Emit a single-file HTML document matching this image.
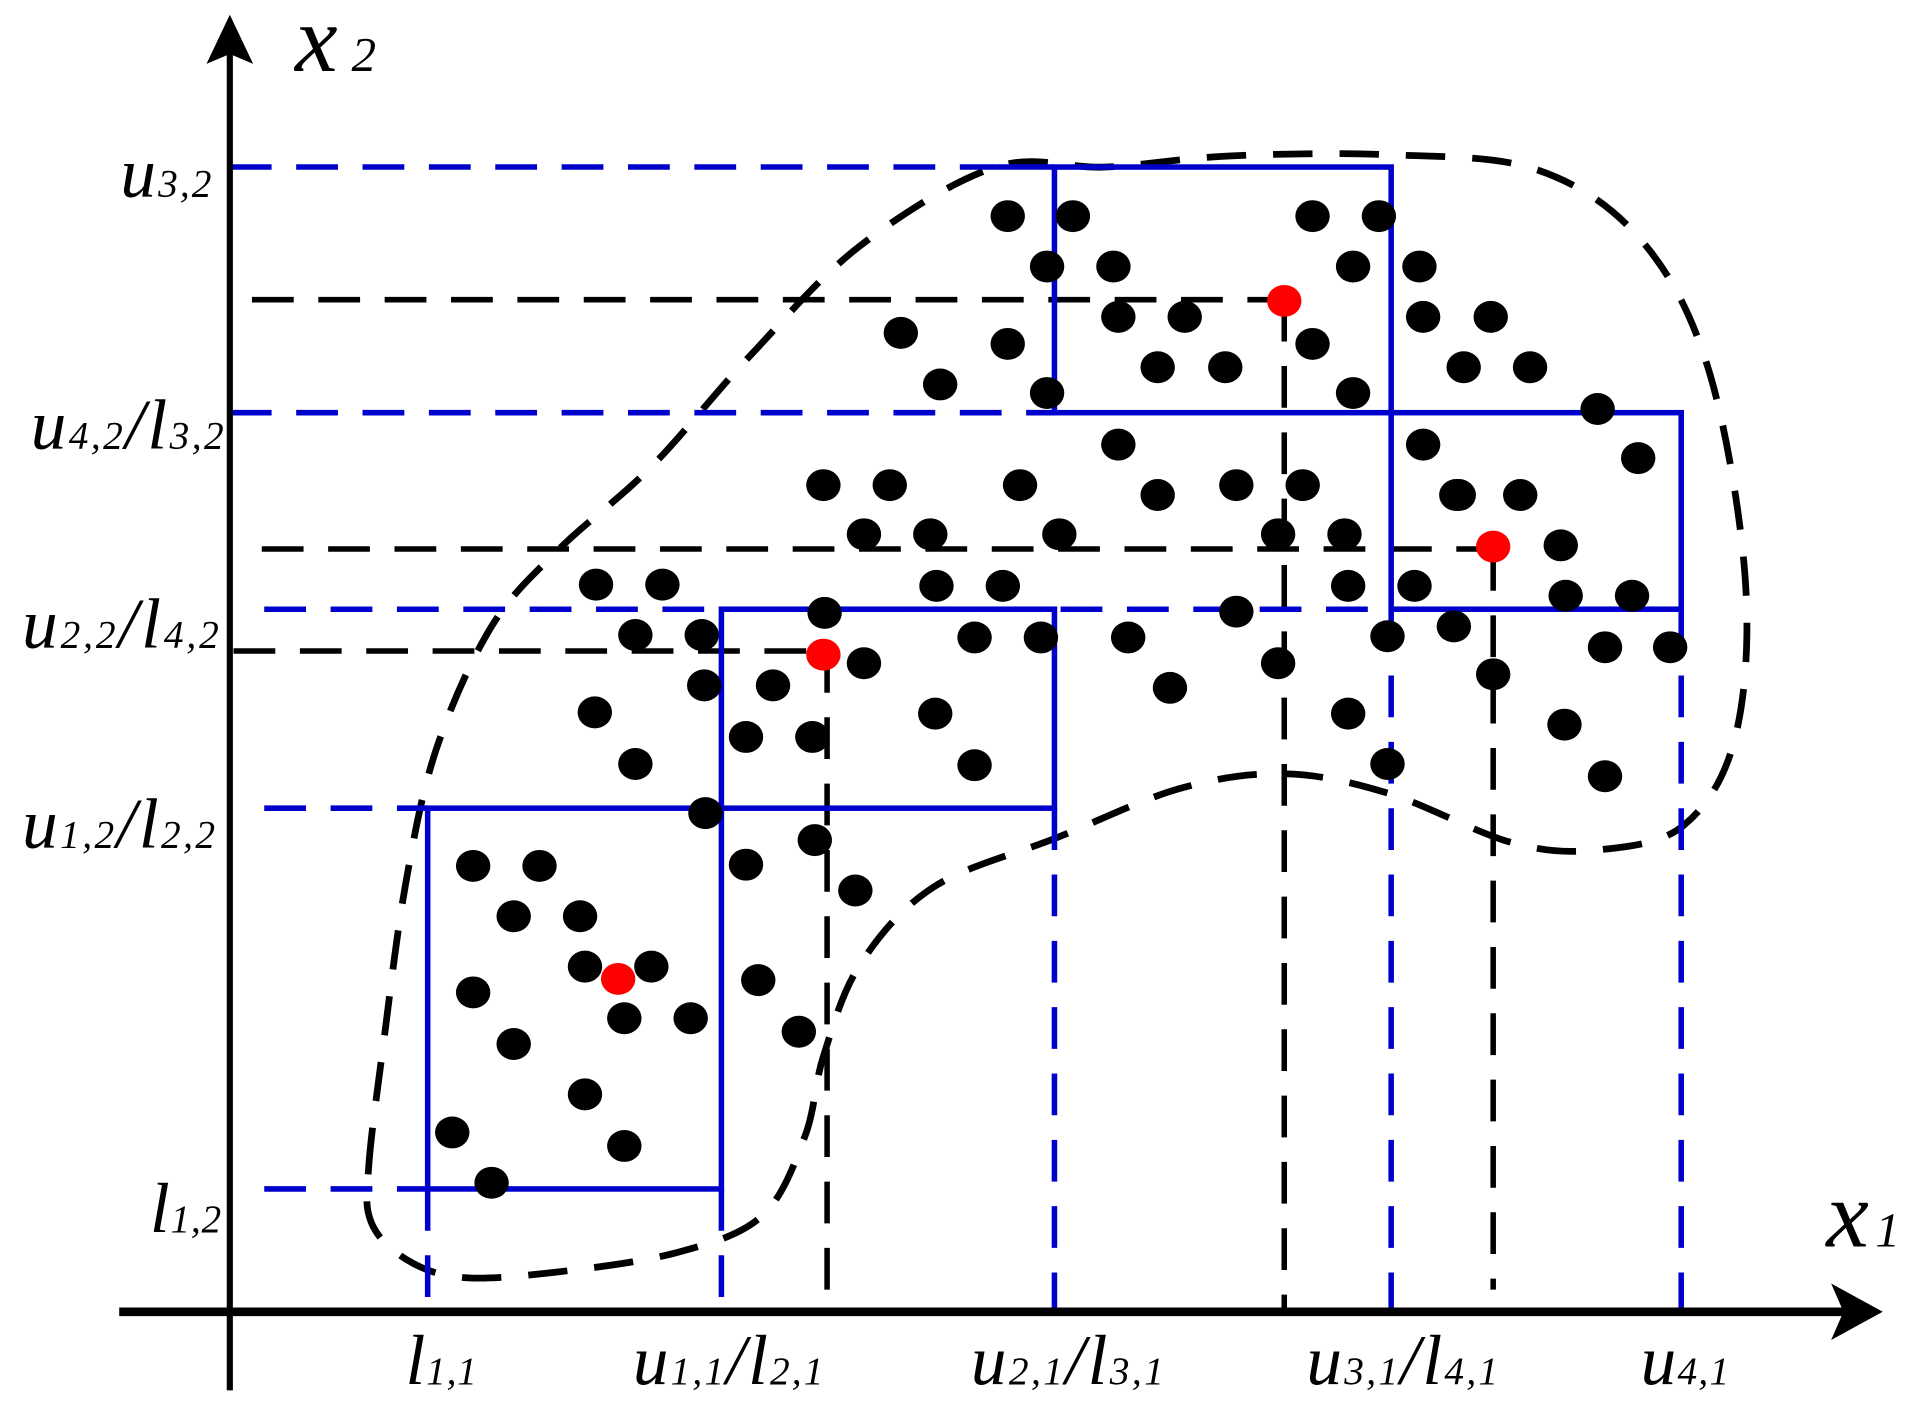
<!DOCTYPE html>
<html><head><meta charset="utf-8"><style>
html,body{margin:0;padding:0;background:#fff;}
svg{display:block;}
text{font-family:"Liberation Serif",serif;font-style:italic;fill:#000;}
</style></head><body>
<svg id="s" width="1927" height="1426" viewBox="0 0 1568 1161" preserveAspectRatio="none" xmlns="http://www.w3.org/2000/svg">
<g id="g"></g>
<polygon points="1490,1045 1532,1068 1490,1091 1500,1068"/>
<polygon points="168,52 187,12 206,52 187,44"/>
<line x1="97" y1="1068" x2="1505" y2="1068" stroke="#000" stroke-width="7"/>
<line x1="187" y1="1132" x2="187" y2="40" stroke="#000" stroke-width="5"/>
<g font-size="58">
<text x="240" y="58" font-size="78" textLength="66">x<tspan font-size="40">2</tspan></text>
<text x="1486" y="1015" font-size="78" textLength="60">x<tspan font-size="40">1</tspan></text>
<text x="98" y="160" textLength="74">u<tspan font-size="32">3,2</tspan></text>
<text x="25" y="365" textLength="157">u<tspan font-size="32">4,2</tspan>/l<tspan font-size="32">3,2</tspan></text>
<text x="18" y="527" textLength="160">u<tspan font-size="32">2,2</tspan>/l<tspan font-size="32">4,2</tspan></text>
<text x="18" y="690" textLength="157">u<tspan font-size="32">1,2</tspan>/l<tspan font-size="32">2,2</tspan></text>
<text x="122" y="1003" textLength="58">l<tspan font-size="32">1,2</tspan></text>
<text x="330" y="1127" textLength="58">l<tspan font-size="32">1,1</tspan></text>
<text x="515" y="1127" textLength="155">u<tspan font-size="32">1,1</tspan>/l<tspan font-size="32">2,1</tspan></text>
<text x="790" y="1127" textLength="157">u<tspan font-size="32">2,1</tspan>/l<tspan font-size="32">3,1</tspan></text>
<text x="1063" y="1127" textLength="156">u<tspan font-size="32">3,1</tspan>/l<tspan font-size="32">4,1</tspan></text>
<text x="1335" y="1127" textLength="72">u<tspan font-size="32">4,1</tspan></text>
</g>
</svg>
<script>
const blackDots=[[820,176],[873,176],[852,217],[906,217],[733,271],[820,280],[765,313],[852,320],[910,258],[964,258],[942,299],[997,299],[1068,176],[1122,176],[1101,217],[1155,217],[1158,258],[1213,258],[1068,280],[1191,299],[1245,299],[1101,320],[1300,333],[1333,373],[910,362],[942,403],[1006,395],[1060,395],[1158,362],[1185,403],[1237,403],[1270,444],[1040,435],[1094,435],[1097,477],[1151,477],[1274,485],[1328,485],[1183,510],[1129,518],[1215,549],[1306,527],[1359,527],[1273,590],[1306,632],[1097,581],[1129,622],[1040,540],[1006,498],[918,519],[952,560],[670,395],[724,395],[830,395],[703,435],[757,435],[862,435],[762,477],[816,477],[485,476],[539,476],[517,517],[571,517],[793,519],[847,519],[703,540],[671,499],[484,580],[517,622],[573,558],[629,558],[607,600],[661,600],[761,581],[793,623],[574,662],[663,684],[696,725],[607,704],[385,705],[439,705],[418,746],[472,746],[476,787],[530,787],[385,808],[508,829],[562,829],[617,798],[650,840],[418,850],[476,891],[508,933],[368,922],[400,963],[1187,403]];
const redDots=[[1045,245],[1215,445],[670,533],[503,797]];
const boxes=[[348,658,587,968],[587,496,858,658],[858,136,1132,336],[1132,336,1368,496]];
const blueDash=[[187,136,810,136],[187,336,858,336],[215,496,1132,496],[215,658,348,658],[215,968,348,968],[348,968,348,1068],[587,968,587,1068],[858,658,858,1068],[1132,496,1132,1068],[1368,496,1368,1068]];
const blackDash=[[205,244,1045,244],[213,447,1215,447],[190,530,670,530],[1045,244,1045,1068],[1215,447,1215,1050],[673,530,673,1050]];
const curve=[[300,950],[312,850],[330,720],[355,610],[400,510],[455,447],[530,380],[610,290],[700,200],[810,136],[900,136],[1000,127],[1130,126],[1250,138],[1335,195],[1390,300],[1420,470],[1412,600],[1370,672],[1300,692],[1230,686],[1130,646],[1045,630],[960,642],[860,682],[760,722],[700,785],[670,860],[655,925],[620,990],[550,1020],[450,1036],[375,1040],[330,1025],[302,995]];
const NS='http://www.w3.org/2000/svg',g=document.getElementById('g');
function mk(t,a){const e=document.createElementNS(NS,t);for(const k in a)e.setAttribute(k,a[k]);g.appendChild(e);return e;}
const n=curve.length;
let d='M'+curve[0].join(',');
for(let i=0;i<n;i++){const p0=curve[(i-1+n)%n],p1=curve[i],p2=curve[(i+1)%n],p3=curve[(i+2)%n];
d+=` C${p1[0]+(p2[0]-p0[0])/6},${p1[1]+(p2[1]-p0[1])/6} ${p2[0]-(p3[0]-p1[0])/6},${p2[1]-(p3[1]-p1[1])/6} ${p2[0]},${p2[1]}`;}
let c=mk('path',{d:d+'Z',fill:'none',stroke:'#000','stroke-width':5.5,'stroke-dasharray':'32 22'});


blackDash.forEach(l=>{const e=mk('line',{x1:l[0],y1:l[1],x2:l[2],y2:l[3],stroke:'#000','stroke-width':4.5,'stroke-dasharray':'34 20'});

});
blueDash.forEach(l=>{const e=mk('line',{x1:l[0],y1:l[1],x2:l[2],y2:l[3],stroke:'#0000cc','stroke-width':4.5,'stroke-dasharray':'34 20'});

});
boxes.forEach(b=>{const e=mk('rect',{x:b[0],y:b[1],width:b[2]-b[0],height:b[3]-b[1],fill:'none',stroke:'#0000cc','stroke-width':4.5});

});
let t=mk('line',{x1:810,y1:136,x2:858,y2:136,stroke:'#0000cc','stroke-width':4.5});


blackDots.forEach(p=>{const e=mk('ellipse',{cx:p[0],cy:p[1],rx:14,ry:13,fill:'#000'});

});
redDots.forEach(p=>{const e=mk('ellipse',{cx:p[0],cy:p[1],rx:14,ry:13,fill:'#f00'});

});
</script>
</body></html>
